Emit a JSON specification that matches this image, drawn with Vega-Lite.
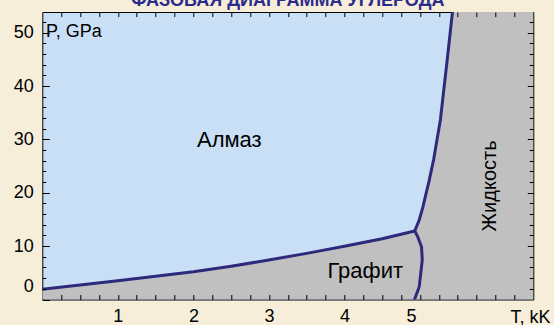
{
  "$schema": "https://vega.github.io/schema/vega-lite/v6.json",
  "width": 491,
  "height": 287.5,
  "autosize": {"type": "none"},
  "padding": {"left": 42.3, "top": 12, "right": 20.7, "bottom": 25.5},
  "background": "#f6eed8",
  "title": {"text": "ФАЗОВАЯ ДИАГРАММА УГЛЕРОДА", "font": "Liberation Sans", "fontSize": 18, "fontWeight": "bold", "color": "#2b2b8c", "anchor": "middle", "baseline": "alphabetic", "offset": 0, "dy": 12},
  "config": {
    "view": {"fill": "#c8dff5", "stroke": "#000000", "strokeWidth": 1},
    "axis": {"grid": false, "domain": false, "zindex": 2, "labelFont": "Liberation Sans", "labelFontSize": 18, "labelColor": "#000000", "tickColor": "#000000", "tickWidth": 1, "tickOpacity": 1, "labelOverlap": false, "labelFlush": false},
    "text": {"font": "Liberation Sans", "fontSize": 18, "color": "#000000"}
  },
  "datasets": {
    "region": [
      {"T": 0, "P": 1.9}, {"T": 0.5, "P": 2.7}, {"T": 1, "P": 3.5}, {"T": 1.5, "P": 4.35}, {"T": 2, "P": 5.2},
      {"T": 2.5, "P": 6.25}, {"T": 3, "P": 7.4}, {"T": 3.5, "P": 8.65}, {"T": 4, "P": 10.0}, {"T": 4.5, "P": 11.4},
      {"T": 4.93, "P": 12.84}, {"T": 4.99, "P": 14.9}, {"T": 5.04, "P": 17.4}, {"T": 5.06, "P": 18.66},
      {"T": 5.12, "P": 22.2}, {"T": 5.18, "P": 26.2}, {"T": 5.27, "P": 33.65}, {"T": 5.36, "P": 44.9},
      {"T": 5.43, "P": 54}, {"T": 6.5, "P": 54}
    ],
    "gd": [
      {"i": 0, "T": 0, "P": 1.9}, {"i": 1, "T": 0.5, "P": 2.7}, {"i": 2, "T": 1, "P": 3.5}, {"i": 3, "T": 1.5, "P": 4.35},
      {"i": 4, "T": 2, "P": 5.2}, {"i": 5, "T": 2.5, "P": 6.25}, {"i": 6, "T": 3, "P": 7.4}, {"i": 7, "T": 3.5, "P": 8.65},
      {"i": 8, "T": 4, "P": 10.0}, {"i": 9, "T": 4.5, "P": 11.4}, {"i": 10, "T": 4.93, "P": 12.84}
    ],
    "gl": [
      {"i": 0, "T": 4.93, "P": 12.84}, {"i": 1, "T": 4.97, "P": 11.78}, {"i": 2, "T": 5.02, "P": 9.9},
      {"i": 3, "T": 5.03, "P": 7.4}, {"i": 4, "T": 5.01, "P": 4.9}, {"i": 5, "T": 4.99, "P": 2.4}, {"i": 6, "T": 4.92, "P": -0.3}
    ],
    "dl": [
      {"i": 0, "T": 4.93, "P": 12.84}, {"i": 1, "T": 4.99, "P": 14.9}, {"i": 2, "T": 5.04, "P": 17.4},
      {"i": 3, "T": 5.06, "P": 18.66}, {"i": 4, "T": 5.12, "P": 22.2}, {"i": 5, "T": 5.18, "P": 26.2},
      {"i": 6, "T": 5.27, "P": 33.65}, {"i": 7, "T": 5.36, "P": 44.9}, {"i": 8, "T": 5.43, "P": 53.9}
    ],
    "labels": [
      {"T": 2.476, "P": 28.6, "text": "Алмаз"},
      {"T": 4.275, "P": 4.03, "text": "Графит"}
    ],
    "plabel": [{"T": 0.05, "P": 49.3, "text": "P, GPa"}],
    "vlabel": [{"T": 6.0, "P": 21.3, "text": "Жидкость"}]
  },
  "layer": [
    {
      "data": {"name": "region"},
      "mark": {"type": "area", "color": "#c0c0c0", "clip": true},
      "encoding": {
        "x": {"field": "T", "type": "quantitative", "scale": {"domain": [0, 6.5], "nice": false, "zero": false},
              "axis": {"orient": "bottom", "zindex": 2, "values": [0.25,0.5,0.75,1,1.25,1.5,1.75,2,2.25,2.5,2.75,3,3.25,3.5,3.75,4,4.25,4.5,4.75,5,5.25,5.5,5.75,6,6.25],
                       "tickSize": {"condition": {"test": "datum.value > 100", "value": -5}, "value": -5},
                       "labelPadding": 12.7,
                       "labelExpr": "datum.value % 1 == 0 && datum.value < 5.5 ? format(datum.value, 'd') : ''",
                       "labelOffset": {"condition": {"test": "datum.value == 5", "value": -9}, "value": 0},
                       "title": "T, kK", "titleX": 507.7, "titleY": 22.5, "titleAlign": "right", "titleBaseline": "alphabetic",
                       "titleFont": "Liberation Sans", "titleFontSize": 18, "titleFontWeight": "normal", "titleColor": "#000000"}},
        "y": {"field": "P", "type": "quantitative", "scale": {"domain": [0, 53.9], "nice": false, "zero": false},
              "axis": {"orient": "left", "zindex": 2, "values": [0,2,4,6,8,10,12,14,16,18,20,22,24,26,28,30,32,34,36,38,40,42,44,46,48,50,52],
                       "tickSize": {"condition": {"test": "datum.value % 10 == 0", "value": -7}, "value": -3.5},
                       "labelPadding": 16,
                       "labelExpr": "datum.value % 10 == 0 ? format(datum.value, 'd') : ''",
                       "labelOffset": {"condition": {"test": "datum.value == 0", "value": -12.8}, "value": 0},
                       "title": null}},
        "y2": {"datum": 0}
      }
    },
    {
      "data": {"name": "gd"},
      "mark": {"type": "line", "color": "#2e2a7b", "strokeWidth": 3, "strokeCap": "round", "strokeJoin": "round", "clip": true},
      "encoding": {
        "x": {"field": "T", "type": "quantitative", "scale": {"domain": [0, 6.5], "nice": false, "zero": false},
              "axis": {"orient": "top", "zindex": 2, "values": [0.25,0.5,0.75,1,1.25,1.5,1.75,2,2.25,2.5,2.75,3,3.25,3.5,3.75,4,4.25,4.5,4.75,5,5.25,5.5,5.75,6,6.25],
                       "labels": false, "ticks": true, "tickColor": "#000000",
                       "tickSize": {"condition": {"test": "datum.value > 100", "value": -4.6}, "value": -4.6}, "title": null}},
        "y": {"field": "P", "type": "quantitative", "scale": {"domain": [0, 53.9], "nice": false, "zero": false},
              "axis": {"orient": "right", "zindex": 2, "values": [2,4,6,8,10,12,14,16,18,20,22,24,26,28,30,32,34,36,38,40,42,44,46,48,50,52],
                       "labels": false, "ticks": true, "tickColor": "#000000",
                       "tickSize": {"condition": {"test": "datum.value % 10 == 0", "value": -6}, "value": -4},
                       "title": null}},
        "order": {"field": "i", "type": "quantitative"}
      }
    },
    {
      "data": {"name": "gl"},
      "mark": {"type": "line", "color": "#2e2a7b", "strokeWidth": 3, "strokeCap": "round", "strokeJoin": "round", "clip": true},
      "encoding": {
        "x": {"field": "T", "type": "quantitative", "scale": {"domain": [0, 6.5], "nice": false, "zero": false}, "axis": null},
        "y": {"field": "P", "type": "quantitative", "scale": {"domain": [0, 53.9], "nice": false, "zero": false}, "axis": null},
        "order": {"field": "i", "type": "quantitative"}
      }
    },
    {
      "data": {"name": "dl"},
      "mark": {"type": "line", "color": "#2e2a7b", "strokeWidth": 3, "strokeCap": "round", "strokeJoin": "round", "clip": true},
      "encoding": {
        "x": {"field": "T", "type": "quantitative", "scale": {"domain": [0, 6.5], "nice": false, "zero": false}, "axis": null},
        "y": {"field": "P", "type": "quantitative", "scale": {"domain": [0, 53.9], "nice": false, "zero": false}, "axis": null},
        "order": {"field": "i", "type": "quantitative"}
      }
    },
    {
      "data": {"name": "labels"},
      "mark": {"type": "text", "align": "center", "baseline": "alphabetic", "fontSize": 22},
      "encoding": {
        "x": {"field": "T", "type": "quantitative", "scale": {"domain": [0, 6.5], "nice": false, "zero": false}, "axis": null},
        "y": {"field": "P", "type": "quantitative", "scale": {"domain": [0, 53.9], "nice": false, "zero": false}, "axis": null},
        "text": {"field": "text"}
      }
    },
    {
      "data": {"name": "plabel"},
      "mark": {"type": "text", "align": "left", "baseline": "alphabetic"},
      "encoding": {
        "x": {"field": "T", "type": "quantitative", "scale": {"domain": [0, 6.5], "nice": false, "zero": false}, "axis": null},
        "y": {"field": "P", "type": "quantitative", "scale": {"domain": [0, 53.9], "nice": false, "zero": false}, "axis": null},
        "text": {"field": "text"}
      }
    },
    {
      "data": {"name": "vlabel"},
      "mark": {"type": "text", "align": "center", "baseline": "alphabetic", "angle": 270, "fontSize": 20},
      "encoding": {
        "x": {"field": "T", "type": "quantitative", "scale": {"domain": [0, 6.5], "nice": false, "zero": false}, "axis": null},
        "y": {"field": "P", "type": "quantitative", "scale": {"domain": [0, 53.9], "nice": false, "zero": false}, "axis": null},
        "text": {"field": "text"}
      }
    }
  ],
  "resolve": {"scale": {"x": "independent", "y": "independent"}, "axis": {"x": "independent", "y": "independent"}}
}
